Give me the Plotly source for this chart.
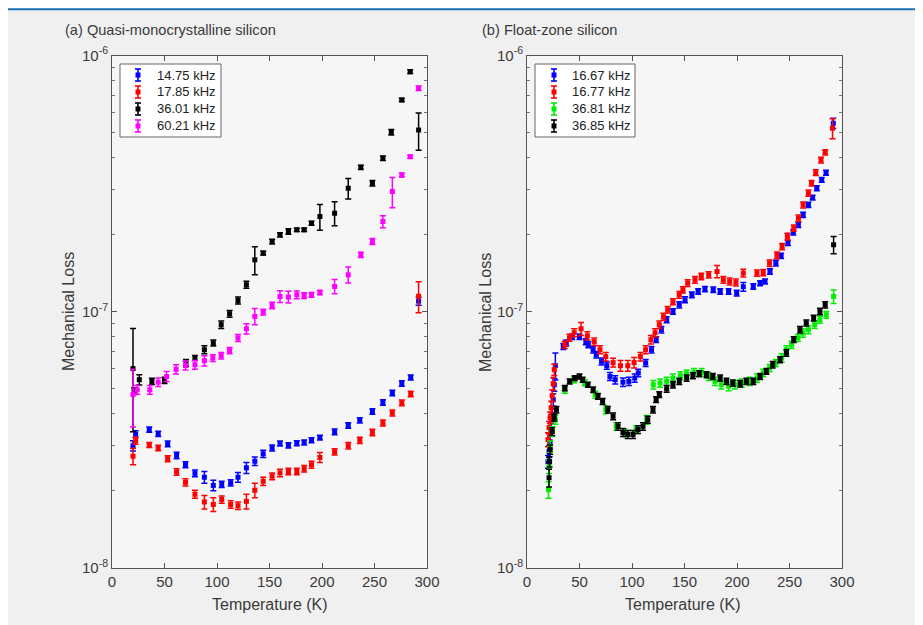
import plotly.graph_objects as go

# ---------------- (a) Quasi-monocrystalline silicon ----------------
a_labels = ["14.75 kHz", "17.85 kHz", "36.01 kHz", "60.21 kHz"]
a_colors = ["#0000ff", "#ff0000", "#000000", "#ff00ff"]

a_blue_T = [20, 22.5, 35.5, 44, 53, 61.5, 70, 79, 88, 96.5, 104.5, 113, 120, 128, 136, 144,
            152.5, 160, 168, 176, 183, 190, 198, 212, 225, 236, 248, 258, 267, 276, 284.5, 292]
a_blue = [3.0e-8, 3.33e-8, 3.47e-8, 3.34e-8, 3.05e-8, 2.75e-8, 2.53e-8, 2.34e-8, 2.26e-8, 2.10e-8,
          2.12e-8, 2.15e-8, 2.26e-8, 2.46e-8, 2.61e-8, 2.79e-8, 2.94e-8, 3.06e-8, 3.01e-8, 3.07e-8,
          3.09e-8, 3.15e-8, 3.23e-8, 3.40e-8, 3.60e-8, 3.77e-8, 4.08e-8, 4.43e-8, 4.82e-8, 5.25e-8,
          5.54e-8, 1.10e-7]
a_blue_err = [1.4e-9, 1.0e-9, 8e-10, 8e-10, 8e-10, 8e-10, 7e-10, 7e-10, 1.2e-9, 1.0e-9, 6e-10, 6e-10,
              1.0e-9, 1.2e-9, 1.0e-9, 9e-10, 8e-10, 7e-10, 7e-10, 7e-10, 7e-10, 7e-10, 7e-10, 9e-10,
              9e-10, 9e-10, 1.0e-9, 1.1e-9, 1.2e-9, 1.3e-9, 1.3e-9, 4e-9]

a_red_T = [20, 22.5, 35.5, 44, 53, 61.5, 70, 79, 88, 96.5, 104.5, 113, 120, 128, 136, 144,
           152.5, 160, 168, 176, 183, 190, 198, 212, 225, 236, 248, 258, 267, 276, 284.5, 292]
a_red = [2.73e-8, 3.14e-8, 3.02e-8, 2.94e-8, 2.67e-8, 2.37e-8, 2.16e-8, 1.94e-8, 1.81e-8, 1.77e-8,
         1.85e-8, 1.77e-8, 1.75e-8, 1.82e-8, 2.01e-8, 2.18e-8, 2.28e-8, 2.35e-8, 2.38e-8, 2.38e-8,
         2.44e-8, 2.53e-8, 2.70e-8, 2.84e-8, 3.0e-8, 3.15e-8, 3.38e-8, 3.68e-8, 4.03e-8, 4.41e-8,
         4.78e-8, 1.15e-7]
a_red_err = [2e-9, 1.0e-9, 7e-10, 7e-10, 7e-10, 7e-10, 7e-10, 7e-10, 1.1e-9, 1.1e-9, 6e-10, 6e-10,
             6e-10, 1.2e-9, 1.3e-9, 8e-10, 7e-10, 8e-10, 7e-10, 7e-10, 7e-10, 8e-10, 1.2e-9, 8e-10,
             9e-10, 9e-10, 1.0e-9, 1.0e-9, 1.1e-9, 1.1e-9, 1.2e-9, 1.6e-8]

a_black_T = [20, 21, 26, 38, 50, 70.5, 79, 88, 96.5, 104, 112, 120, 128, 136, 144, 152.5, 160, 168,
             176, 183, 190, 198, 212, 225, 237, 248, 258, 266, 276, 284, 292]
a_black = [6.0e-8, 4.9e-8, 5.43e-8, 5.35e-8, 5.40e-8, 6.31e-8, 6.60e-8, 7.11e-8, 7.55e-8, 8.90e-8,
           9.82e-8, 1.106e-7, 1.274e-7, 1.595e-7, 1.694e-7, 1.880e-7, 1.996e-7, 2.056e-7, 2.088e-7,
           2.088e-7, 2.217e-7, 2.351e-7, 2.425e-7, 3.035e-7, 3.664e-7, 3.175e-7, 3.973e-7, 5.02e-7,
           6.71e-7, 8.65e-7, 5.12e-7]
a_black_err = [2.6e-8, 1.5e-9, 2.5e-9, 1.5e-9, 1.5e-9, 2e-9, 1.5e-9, 2.5e-9, 2e-9, 3e-9, 3e-9, 3.5e-9,
               4e-9, 2.0e-8, 3e-9, 4e-9, 4e-9, 5e-9, 3e-9, 3e-9, 4e-9, 2.7e-8, 2.6e-8, 2.8e-8, 7e-9,
               8e-9, 8e-9, 1.2e-8, 1e-8, 1.5e-8, 8.5e-8]

a_mag_T = [20, 24, 36, 44, 52, 61, 70, 79, 88, 96, 104, 112, 120, 128, 136, 144, 152.5, 160, 168,
           176, 183, 190, 198, 212, 225, 237, 248, 258, 267, 276, 284, 292]
a_mag = [4.75e-8, 4.96e-8, 4.96e-8, 5.31e-8, 5.59e-8, 5.96e-8, 6.17e-8, 6.21e-8, 6.44e-8, 6.60e-8,
         6.74e-8, 7.06e-8, 7.90e-8, 8.58e-8, 9.59e-8, 9.97e-8, 1.058e-7, 1.147e-7, 1.141e-7, 1.165e-7,
         1.157e-7, 1.165e-7, 1.189e-7, 1.255e-7, 1.394e-7, 1.668e-7, 1.880e-7, 2.249e-7, 2.944e-7,
         3.42e-7, 4.03e-7, 7.45e-7]
a_mag_err = [1.2e-8, 2e-9, 2e-9, 2e-9, 2.5e-9, 2.5e-9, 2.5e-9, 2.5e-9, 3e-9, 2e-9, 2e-9, 2e-9, 2.5e-9,
             4e-9, 7e-9, 2.5e-9, 3e-9, 6e-9, 6e-9, 4e-9, 3e-9, 2.5e-9, 2.5e-9, 8e-9, 1.0e-8, 4e-9,
             5e-9, 1.2e-8, 4e-8, 6e-9, 6e-9, 1.5e-8]

# ---------------- (b) Float-zone silicon ----------------
b_labels = ["16.67 kHz", "16.77 kHz", "36.81 kHz", "36.85 kHz"]
b_colors = ["#0000ff", "#ff0000", "#00ee00", "#000000"]

b_blue_T = [20, 21, 22, 23, 24, 25, 26, 27, 34.6, 37.4, 43, 50, 56, 58.4, 63, 66, 71, 76,
            79, 84, 91.4, 97, 102.6, 106, 113, 118.6, 123, 128, 133, 139, 145, 150.5, 157, 163,
            169.5, 177.4, 184, 192, 199.7, 206, 215.5, 222, 226.7, 231.4, 237, 242, 248.5, 253.6,
            258.4, 263, 268, 272, 276, 280.7, 284.8, 291.7]
b_blue = [2.60e-8, 2.85e-8, 3.11e-8, 3.47e-8, 3.97e-8, 4.54e-8, 5.19e-8, 6.16e-8,
          7.32e-8, 7.55e-8, 7.99e-8, 7.99e-8, 7.64e-8, 7.43e-8, 7.11e-8, 6.80e-8, 6.40e-8, 6.16e-8,
          5.59e-8, 5.43e-8, 5.31e-8, 5.35e-8, 5.51e-8, 5.77e-8, 6.31e-8, 7.11e-8, 7.78e-8, 8.51e-8,
          9.31e-8, 1.003e-7, 1.065e-7, 1.114e-7, 1.165e-7, 1.200e-7, 1.226e-7, 1.218e-7, 1.200e-7,
          1.200e-7, 1.183e-7, 1.252e-7, 1.255e-7, 1.292e-7, 1.313e-7, 1.436e-7, 1.548e-7, 1.653e-7,
          1.858e-7, 2.041e-7, 2.184e-7, 2.388e-7, 2.613e-7, 2.790e-7, 3.035e-7, 3.27e-7, 3.49e-7,
          5.44e-7]
b_blue_err = [1.5e-9, 1.5e-9, 2e-9, 2e-9, 2e-9, 2.5e-9, 3e-9, 7.5e-9,
              2e-9, 2e-9, 2e-9, 2e-9, 2e-9, 2e-9, 2e-9, 2e-9, 2e-9, 2e-9,
              2e-9, 2e-9, 2e-9, 2e-9, 2e-9, 2e-9, 2e-9, 2e-9, 2e-9, 2.5e-9,
              2.5e-9, 2.5e-9, 3e-9, 3e-9, 3e-9, 3e-9, 3e-9, 3e-9, 3e-9, 3e-9,
              3e-9, 5e-9, 3e-9, 3e-9, 3e-9, 3.5e-9, 4e-9, 4e-9, 4.5e-9, 5e-9,
              5e-9, 5.5e-9, 6e-9, 6e-9, 7e-9, 7e-9, 8e-9, 2.5e-8]

b_red_T = [20, 21, 22, 23, 24, 25, 26, 36, 40.5, 45, 51.5, 57.5, 64, 69.5, 75, 82, 89, 96, 102,
           108, 113, 118, 122, 126, 130, 134, 139, 145, 148.5, 153, 160, 166, 173, 181, 187, 193,
           199, 206, 219, 225, 231, 238, 243, 248, 254, 258.5, 263, 268, 271, 275, 280, 284, 291]
b_red = [3.17e-8, 3.53e-8, 3.86e-8, 4.22e-8, 4.70e-8, 5.24e-8, 5.94e-8, 7.43e-8, 7.92e-8, 8.28e-8,
         8.58e-8, 8.06e-8, 7.64e-8, 7.11e-8, 6.68e-8, 6.33e-8, 6.16e-8, 6.16e-8, 6.33e-8, 6.68e-8,
         7.11e-8, 7.78e-8, 8.28e-8, 8.90e-8, 9.56e-8, 1.018e-7, 1.094e-7, 1.165e-7, 1.218e-7,
         1.294e-7, 1.333e-7, 1.373e-7, 1.394e-7, 1.436e-7, 1.333e-7, 1.313e-7, 1.301e-7, 1.415e-7,
         1.415e-7, 1.423e-7, 1.548e-7, 1.661e-7, 1.797e-7, 1.966e-7, 2.120e-7, 2.318e-7, 2.613e-7,
         2.903e-7, 3.175e-7, 3.49e-7, 3.91e-7, 4.19e-7, 5.20e-7]
b_red_err = [2e-9, 2e-9, 2e-9, 2.5e-9, 2.5e-9, 3e-9, 3e-9, 2.5e-9, 2.5e-9, 3e-9,
             5e-9, 3e-9, 2.5e-9, 2.5e-9, 2.5e-9, 2.5e-9, 3e-9, 3e-9, 3e-9, 2.5e-9,
             2.5e-9, 3e-9, 3e-9, 3e-9, 3e-9, 3e-9, 3e-9, 3.5e-9, 3.5e-9, 4e-9,
             4e-9, 4e-9, 4e-9, 8e-9, 4e-9, 4e-9, 4e-9, 5e-9, 4e-9, 4e-9,
             4.5e-9, 5e-9, 5e-9, 6e-9, 6e-9, 7e-9, 7e-9, 8e-9, 8e-9, 9e-9,
             1e-8, 1e-8, 4.7e-8]

b_green_T = [20.5, 21, 22, 24, 27, 36, 45, 55, 65, 75, 85, 93, 104, 114, 120.3, 126.7, 133, 139,
             146, 152, 159, 166.4, 173, 179, 185, 192, 198, 204.5, 212, 219, 225, 231, 237, 242.6,
             247, 252, 258, 263, 268, 274, 279, 285, 292]
b_green = [2.02e-8, 2.49e-8, 2.98e-8, 3.41e-8, 3.79e-8, 4.96e-8, 5.43e-8, 5.29e-8, 4.75e-8, 4.15e-8,
           3.57e-8, 3.37e-8, 3.47e-8, 3.79e-8, 5.19e-8, 5.27e-8, 5.35e-8, 5.51e-8, 5.63e-8, 5.73e-8,
           5.80e-8, 5.80e-8, 5.59e-8, 5.35e-8, 5.19e-8, 5.12e-8, 5.19e-8, 5.27e-8, 5.35e-8, 5.51e-8,
           5.77e-8, 6.03e-8, 6.31e-8, 6.60e-8, 7.11e-8, 7.43e-8, 7.90e-8, 8.26e-8, 8.51e-8, 8.90e-8,
           9.31e-8, 9.73e-8, 1.147e-7]
b_green_err = [1.5e-9, 1.5e-9, 1.5e-9, 1.5e-9, 1.5e-9, 1.5e-9, 1.5e-9, 1.5e-9, 1.5e-9, 1.5e-9,
               1.2e-9, 1.2e-9, 1.2e-9, 1.5e-9, 2e-9, 2e-9, 2e-9, 2e-9, 2e-9, 2e-9,
               2e-9, 2e-9, 2e-9, 2e-9, 2e-9, 2e-9, 2e-9, 2e-9, 2e-9, 2e-9,
               2e-9, 2e-9, 2e-9, 2.5e-9, 2.5e-9, 2.5e-9, 2.5e-9, 3e-9, 3e-9, 3e-9,
               3e-9, 3e-9, 7e-9]

b_black_T = [21, 21.5, 22, 24, 26, 28, 36, 40.6, 45.4, 50, 53, 58, 63, 67.6, 72, 77, 82, 86.7, 91.4,
             96, 101, 105.7, 110.5, 115, 120, 123, 126, 133, 139, 145, 152, 158, 164, 171, 177, 184,
             190, 196, 203, 209, 215.5, 222, 228, 234, 241, 247, 254, 260, 266, 273, 279, 284, 292]
b_black = [2.25e-8, 2.60e-8, 2.90e-8, 3.41e-8, 3.86e-8, 4.15e-8, 5.04e-8, 5.35e-8, 5.51e-8, 5.59e-8,
           5.43e-8, 5.19e-8, 4.96e-8, 4.68e-8, 4.47e-8, 4.15e-8, 3.91e-8, 3.57e-8, 3.38e-8, 3.32e-8,
           3.32e-8, 3.47e-8, 3.57e-8, 3.79e-8, 4.15e-8, 4.54e-8, 4.75e-8, 5.00e-8, 5.19e-8, 5.35e-8,
           5.51e-8, 5.63e-8, 5.73e-8, 5.68e-8, 5.59e-8, 5.51e-8, 5.35e-8, 5.27e-8, 5.24e-8, 5.35e-8,
           5.35e-8, 5.59e-8, 5.85e-8, 6.21e-8, 6.50e-8, 6.90e-8, 7.78e-8, 8.51e-8, 9.04e-8, 9.45e-8,
           1.003e-7, 1.065e-7, 1.825e-7]
b_black_err = [1.8e-9, 1.2e-9, 1.2e-9, 1.2e-9, 1.2e-9, 1.2e-9, 1.2e-9, 1.2e-9, 1.2e-9, 1.2e-9,
               1.2e-9, 1.2e-9, 1.2e-9, 1.2e-9, 1.2e-9, 1.2e-9, 1.2e-9, 1.2e-9, 1.2e-9, 1.2e-9,
               1.2e-9, 1.2e-9, 1.2e-9, 1.2e-9, 1.2e-9, 1.2e-9, 1.2e-9, 1.5e-9, 1.5e-9, 1.5e-9,
               1.5e-9, 1.5e-9, 1.5e-9, 1.5e-9, 1.5e-9, 1.5e-9, 1.5e-9, 1.5e-9, 1.5e-9, 1.5e-9,
               1.5e-9, 1.5e-9, 1.5e-9, 1.8e-9, 1.8e-9, 2e-9, 2e-9, 2.5e-9, 2.5e-9, 2.5e-9,
               3e-9, 3e-9, 1.4e-8]

y_tickvals = [1e-8, 1e-7, 1e-6]
y_ticktext = ["10<sup>-8</sup>", "10<sup>-7</sup>", "10<sup>-6</sup>"]
y_minor = [2e-8, 3e-8, 4e-8, 5e-8, 6e-8, 7e-8, 8e-8, 9e-8,
           2e-7, 3e-7, 4e-7, 5e-7, 6e-7, 7e-7, 8e-7, 9e-7]
x_tickvals = [0, 50, 100, 150, 200, 250, 300]

FONT = "Liberation Sans, Arial, Helvetica, sans-serif"
TXT = "#3a3a3a"
W, H, OFF = 915, 617, 8   # figure size; page body offset of the figure


def px(x):
    return (x - OFF) / W


def py(y):
    return 1 - (y - OFF) / H


fig = go.Figure()


def add_series(T, v, err, color, name, xa, ya):
    fig.add_trace(go.Scatter(
        x=T, y=v, mode="markers", name=name, showlegend=False,
        xaxis=xa, yaxis=ya,
        marker=dict(symbol="square", size=5, color=color, line=dict(width=0)),
        error_y=dict(type="data", array=err, visible=True, color=color,
                     thickness=1.5, width=3),
    ))


add_series(a_blue_T, a_blue, a_blue_err, a_colors[0], a_labels[0], "x", "y")
add_series(a_red_T, a_red, a_red_err, a_colors[1], a_labels[1], "x", "y")
add_series(a_black_T, a_black, a_black_err, a_colors[2], a_labels[2], "x", "y")
add_series(a_mag_T, a_mag, a_mag_err, a_colors[3], a_labels[3], "x", "y")

add_series(b_blue_T, b_blue, b_blue_err, b_colors[0], b_labels[0], "x2", "y2")
add_series(b_red_T, b_red, b_red_err, b_colors[1], b_labels[1], "x2", "y2")
add_series(b_green_T, b_green, b_green_err, b_colors[2], b_labels[2], "x2", "y2")
add_series(b_black_T, b_black, b_black_err, b_colors[3], b_labels[3], "x2", "y2")

ydom = [0.0924, 0.9230]


def xaxis_cfg(dom, anchor):
    return dict(domain=dom, anchor=anchor, range=[0, 300], tickmode="array",
                tickvals=x_tickvals, ticks="inside", ticklen=5, tickcolor="#555",
                showline=True, linecolor="#555", linewidth=1, mirror="ticks",
                showgrid=False, zeroline=False, automargin=False,
                tickfont=dict(family=FONT, size=15, color=TXT))


def yaxis_cfg(anchor):
    return dict(domain=ydom, anchor=anchor, type="log", range=[-8, -6],
                tickmode="array", tickvals=y_tickvals, ticktext=y_ticktext,
                ticks="inside", ticklen=5, tickcolor="#555",
                minor=dict(tickmode="array", tickvals=y_minor, ticks="inside",
                           ticklen=3, tickcolor="#777", showgrid=False),
                showline=True, linecolor="#555", linewidth=1, mirror="ticks",
                showgrid=False, zeroline=False, automargin=False,
                tickfont=dict(family=FONT, size=15, color=TXT))


def label(text, x, y, angle=0, size=16, anchor="center"):
    return dict(text=text, x=x, y=y, xref="paper", yref="paper", showarrow=False,
                xanchor=anchor, yanchor="middle", textangle=angle,
                font=dict(family=FONT, size=size, color=TXT))


annotations = [
    label("(a) Quasi-monocrystalline silicon", px(63), py(30), size=14.6, anchor="left"),
    label("(b) Float-zone silicon", px(480), py(30), size=14.6, anchor="left"),
    label("Temperature (K)", px(270), py(604)),
    label("Temperature (K)", px(683), py(604)),
    label("Mechanical Loss", px(68), py(312), angle=-90),
    label("Mechanical Loss", px(485), py(312), angle=-90),
]
shapes = [
    dict(type="line", xref="paper", yref="paper", x0=0, x1=1, y0=0.998, y1=0.998,
         line=dict(color="#1b72b8", width=2)),
]


def add_legend(labels, colors, box, icon_x, text_x, rows):
    x0, y0, x1, y1 = box
    shapes.append(dict(type="rect", xref="paper", yref="paper",
                       x0=px(x0), x1=px(x1), y0=py(y1), y1=py(y0),
                       fillcolor="#ffffff", line=dict(color="#666", width=1)))
    for lab, col, ry in zip(labels, colors, rows):
        # error-bar style icon: vertical bar with caps and a small square
        shapes.append(dict(type="line", xref="paper", yref="paper",
                           x0=px(icon_x), x1=px(icon_x), y0=py(ry + 6), y1=py(ry - 6),
                           line=dict(color=col, width=1.6)))
        for cy in (ry - 6, ry + 6):
            shapes.append(dict(type="line", xref="paper", yref="paper",
                               x0=px(icon_x - 3), x1=px(icon_x + 3), y0=py(cy), y1=py(cy),
                               line=dict(color=col, width=1.6)))
        shapes.append(dict(type="rect", xref="paper", yref="paper",
                           x0=px(icon_x - 2.5), x1=px(icon_x + 2.5),
                           y0=py(ry + 2.5), y1=py(ry - 2.5),
                           fillcolor=col, line=dict(width=0)))
        annotations.append(dict(text=lab, x=px(text_x), y=py(ry), xref="paper", yref="paper",
                                showarrow=False, xanchor="left", yanchor="middle",
                                font=dict(family=FONT, size=13, color="#222")))


add_legend(a_labels, a_colors, (120, 64, 221, 137), 138, 155, [75, 92, 109, 126])
add_legend(b_labels, b_colors, (535, 64, 635, 137), 554, 570, [75, 92, 109, 126])

fig.update_layout(
    width=W, height=H,
    margin=dict(l=0, r=0, t=0, b=0),
    paper_bgcolor="#f0f0f0", plot_bgcolor="#f6f6f6",
    showlegend=False,
    xaxis=xaxis_cfg([px(112), px(427)], "y"),
    yaxis=yaxis_cfg("x"),
    xaxis2=xaxis_cfg([px(527), px(842)], "y2"),
    yaxis2=yaxis_cfg("x2"),
    annotations=annotations,
    shapes=shapes,
)

fig.write_html("out.html")
